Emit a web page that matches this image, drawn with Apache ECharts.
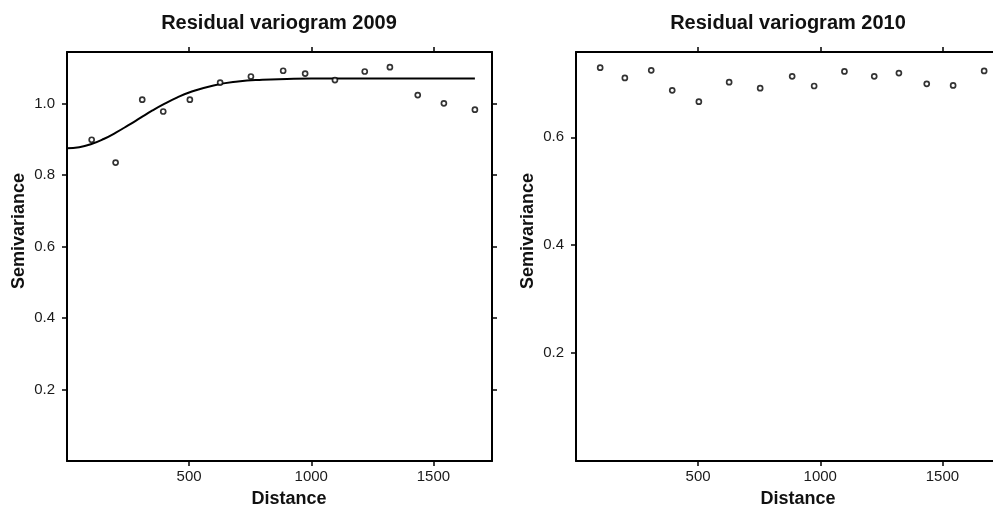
<!DOCTYPE html>
<html>
<head>
<meta charset="utf-8">
<script src="https://cdn.jsdelivr.net/npm/echarts@6/dist/echarts.min.js"></script>
<style>
  html, body { margin: 0; padding: 0; background: #fff; overflow: hidden; }
  #main { width: 1002px; height: 509px; }
</style>
</head>
<body>
<div id="main"></div>
<script>
// empirical residual variogram 2009 (bin centre distance, semivariance)
var dist09 = [101, 199, 308, 394, 503, 627, 753, 885, 975, 1097, 1219, 1322, 1436, 1543, 1670];
var gamma09 = [0.899, 0.835, 1.011, 0.978, 1.011, 1.059, 1.076, 1.092, 1.084, 1.066, 1.090, 1.102, 1.024, 1.001, 0.983];

// fitted model line 2009
var fitDist = [0, 50, 100, 150, 200, 250, 300, 350, 400, 450, 500, 600, 700, 800, 900, 1000, 1200, 1400, 1670];
var fitGamma = [0.875, 0.878, 0.887, 0.901, 0.919, 0.939, 0.960, 0.981, 1.000, 1.017, 1.031, 1.051, 1.062, 1.067, 1.069, 1.070, 1.070, 1.070, 1.070];

// empirical residual variogram 2010
var dist10 = [99, 200, 308, 394, 503, 627, 754, 885, 975, 1099, 1221, 1322, 1436, 1544, 1671];
var gamma10 = [0.729, 0.710, 0.724, 0.687, 0.666, 0.702, 0.691, 0.713, 0.695, 0.722, 0.713, 0.719, 0.699, 0.696, 0.723];

var xTicks = [500, 1000, 1500];
var yTicks09 = [0.2, 0.4, 0.6, 0.8, 1.0];
var yTicks10 = [0.2, 0.4, 0.6];

var titles = ['Residual variogram 2009', 'Residual variogram 2010'];

function pairs(xs, ys) {
    var out = [];
    for (var i = 0; i < xs.length; i++) out.push([xs[i], ys[i]]);
    return out;
}

var font = '"Liberation Sans", Arial, sans-serif';
var ink = '#000';

var dom = document.getElementById('main');
var myChart = echarts.init(dom, null, { renderer: 'canvas' });

function xAx(gi, pos, labels) {
    return {
        type: 'value', gridIndex: gi, position: pos,
        min: 0, max: 1740,
        splitLine: { show: false },
        axisLine: { show: true, onZero: false, lineStyle: { color: ink, width: 2 } },
        axisTick: { show: true, length: 5, customValues: xTicks, lineStyle: { color: ink, width: 1.5 } },
        axisLabel: {
            show: labels, customValues: xTicks, margin: 8, color: '#1a1a1a', fontSize: 15, fontFamily: font,
            formatter: function (v) { return String(v); }
        }
    };
}
function yAx(gi, pos, labels, max, ticks) {
    return {
        type: 'value', gridIndex: gi, position: pos,
        min: 0, max: max,
        splitLine: { show: false },
        axisLine: { show: true, onZero: false, lineStyle: { color: ink, width: 2 } },
        axisTick: { show: true, length: 5, customValues: ticks, lineStyle: { color: ink, width: 1.5 } },
        axisLabel: {
            show: labels, customValues: ticks, margin: 12, color: '#1a1a1a', fontSize: 15, fontFamily: font,
            formatter: function (v) { return v.toFixed(1); }
        }
    };
}

var pointStyle = { color: '#fff', borderColor: ink, borderWidth: 1.7 };

option = {
    animation: false,
    backgroundColor: '#fff',
    grid: [
        { left: 67, top: 52, width: 425, height: 409 },
        { left: 576, top: 52, width: 425, height: 409 }
    ],
    xAxis: [xAx(0, 'bottom', true), xAx(0, 'top', false), xAx(1, 'bottom', true), xAx(1, 'top', false)],
    yAxis: [yAx(0, 'left', true, 1.1445, yTicks09), yAx(0, 'right', false, 1.1445, yTicks09),
            yAx(1, 'left', true, 0.758, yTicks10), yAx(1, 'right', false, 0.758, yTicks10)],
    graphic: [
        { type: 'text', x: 279, y: 23, style: { text: titles[0], fill: '#111', font: 'bold 20px ' + font, textAlign: 'center', textVerticalAlign: 'middle' } },
        { type: 'text', x: 788, y: 23, style: { text: titles[1], fill: '#111', font: 'bold 20px ' + font, textAlign: 'center', textVerticalAlign: 'middle' } },
        { type: 'text', x: 289, y: 499, style: { text: 'Distance', fill: '#111', font: 'bold 18px ' + font, textAlign: 'center', textVerticalAlign: 'middle' } },
        { type: 'text', x: 798, y: 499, style: { text: 'Distance', fill: '#111', font: 'bold 18px ' + font, textAlign: 'center', textVerticalAlign: 'middle' } },
        { type: 'text', x: 19, y: 231, rotation: Math.PI / 2, style: { text: 'Semivariance', fill: '#111', font: 'bold 18px ' + font, textAlign: 'center', textVerticalAlign: 'middle' } },
        { type: 'text', x: 528, y: 231, rotation: Math.PI / 2, style: { text: 'Semivariance', fill: '#111', font: 'bold 18px ' + font, textAlign: 'center', textVerticalAlign: 'middle' } }
    ],
    series: [
        {
            name: 'model 2009', type: 'line', xAxisIndex: 0, yAxisIndex: 0,
            data: pairs(fitDist, fitGamma), smooth: true, showSymbol: false,
            lineStyle: { color: ink, width: 2 }, z: 2
        },
        {
            name: 'sample 2009', type: 'scatter', xAxisIndex: 0, yAxisIndex: 0,
            data: pairs(dist09, gamma09), symbol: 'circle', symbolSize: 5,
            itemStyle: pointStyle, z: 3
        },
        {
            name: 'sample 2010', type: 'scatter', xAxisIndex: 2, yAxisIndex: 2,
            data: pairs(dist10, gamma10), symbol: 'circle', symbolSize: 5,
            itemStyle: pointStyle, z: 3
        }
    ]
};
if (option && typeof option === "object") {
    myChart.setOption(option, true);
}
</script>
</body>
</html>
